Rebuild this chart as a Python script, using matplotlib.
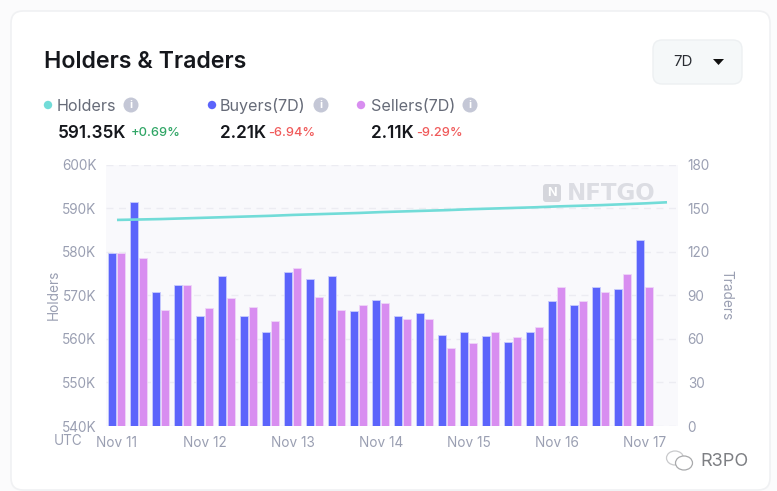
import matplotlib
matplotlib.use("Agg")
import matplotlib.pyplot as plt
from matplotlib.patches import FancyBboxPatch, Circle, Polygon, Ellipse

plt.rcParams['font.family'] = ['Inter', 'DejaVu Sans']

# ---- data ----
days = ["Nov 11", "Nov 12", "Nov 13", "Nov 14", "Nov 15", "Nov 16", "Nov 17"]
day_slots = [0, 4, 8, 12, 16, 20, 24]
buyers = [119, 154, 92, 97, 76, 103, 76, 65, 106, 101, 103, 79, 87,
          76, 78, 63, 65, 62, 58, 65, 86, 83, 96, 94, 128]
sellers = [119, 116, 80, 97, 81, 88, 82, 72, 109, 89, 80, 83, 85,
           74, 74, 54, 57, 65, 61, 68, 96, 86, 92, 105, 96]
holders = [587.3, 587.4, 587.5, 587.65, 587.8, 587.95, 588.1, 588.25, 588.45, 588.6, 588.75,
           588.9, 589.1, 589.25, 589.4, 589.55, 589.75, 589.9, 590.05, 590.2, 590.4, 590.55,
           590.7, 590.9, 591.1, 591.35]
left_ticks = [540, 550, 560, 570, 580, 590, 600]
right_ticks = [0, 30, 60, 90, 120, 150, 180]

W, H = 777, 491
BLUE, PINK, TEAL = "#5B64FB", "#D88EF0", "#72DCD8"
GREY = "#9A9FB2"
INK = "#15171C"

fig = plt.figure(figsize=(W / 100, H / 100), dpi=100, facecolor="#FBFBFC")

# page overlay in pixel coordinates
bg = fig.add_axes([0, 0, 1, 1], zorder=0)
bg.set_xlim(0, W); bg.set_ylim(H, 0); bg.axis("off")
bg.add_patch(FancyBboxPatch((17, 17), 747, 467, boxstyle="round,pad=6,rounding_size=12",
                            fc="white", ec="#F0F1F3", lw=1.2))
bg.add_patch(FancyBboxPatch((653, 40), 89, 44, boxstyle="round,pad=0,rounding_size=9",
                            fc="#F5F8F9", ec="#EDF0F2", lw=1))
bg.text(44, 62, "Holders & Traders", fontsize=16.7, fontweight="semibold", color=INK, va="center")
bg.text(683, 61.5, "7D", fontsize=10.8, color="#2A2D33", ha="center", va="center")
bg.add_patch(Polygon([[713, 59], [724, 59], [718.5, 65]], fc="#111111", ec="none"))


def stat(xdot, xtext, label, xinfo, value, vx, delta, dx, dot, dcol):
    bg.add_patch(Circle((xdot, 105), 4.2, fc=dot, ec="none"))
    bg.text(xtext, 106, label, fontsize=11.6, color="#666B78", va="center")
    bg.add_patch(Circle((xinfo, 105), 7.5, fc="#C4C7D6", ec="none"))
    bg.text(xinfo, 105, "i", fontsize=8, color="white", ha="center", va="center", fontweight="bold")
    bg.text(vx, 133, value, fontsize=12.4, fontweight="semibold", color=INK, va="center")
    bg.text(dx, 133.5, delta, fontsize=9.2, fontweight="medium", color=dcol, va="center")


stat(48, 57, "Holders", 131, "591.35K", 58, "+0.69%", 131, TEAL, "#2FA565")
stat(212, 220, "Buyers(7D)", 321, "2.21K", 220, "-6.94%", 268, BLUE, "#F05A5A")
stat(361, 371, "Sellers(7D)", 470, "2.11K", 371, "-9.29%", 416, PINK, "#F05A5A")

# chart
x0, x1, ytop, ybot = 106, 678, 164.6, 426
ax = fig.add_axes([x0 / W, 1 - ybot / H, (x1 - x0) / W, (ybot - ytop) / H], zorder=2)
ax.set_facecolor("#F9F9FC")
ax.set_xlim(-0.5, 25.5)
ax.set_ylim(right_ticks[0], right_ticks[-1])
for s in ax.spines.values():
    s.set_visible(False)
ax.set_yticks(right_ticks)
ax.grid(axis="y", color="#ECECF2", lw=1, ls=(0, (5, 4)))
ax.set_axisbelow(True)
ax.set_xticks(day_slots)
ax.set_xticklabels(days)
ax.tick_params(axis="x", length=0, labelsize=9.8, labelcolor=GREY, pad=7)

slots = list(range(len(buyers)))
ax.bar([i - 0.235 for i in slots], buyers, width=0.35, color=BLUE, edgecolor="#C9CCFD", lw=0.6, zorder=3)
ax.bar([i + 0.175 for i in slots], sellers, width=0.35, color=PINK, edgecolor="#EFD6F8", lw=0.6, zorder=3)

left = ax.twinx()
left.set_ylim(left_ticks[0], left_ticks[-1])
left.set_yticks(left_ticks)
left.set_yticklabels([f"{t}K" for t in left_ticks])
left.yaxis.tick_left()
left.yaxis.set_label_position("left")
left.tick_params(axis="y", length=0, labelsize=9.8, labelcolor=GREY, pad=7)
left.set_ylabel("Holders", fontsize=9.8, color=GREY, labelpad=1)
for s in left.spines.values():
    s.set_visible(False)
left.plot(range(len(holders)), holders, color=TEAL, lw=1.9, zorder=5, solid_capstyle="butt")

ax.yaxis.tick_right()
ax.yaxis.set_label_position("right")
ax.tick_params(axis="y", length=0, labelsize=9.8, labelcolor=GREY, pad=7)
ax.set_ylabel("Traders", fontsize=9.8, color=GREY, rotation=-90, labelpad=7, va="bottom")

# watermark
bg2 = fig.add_axes([0, 0, 1, 1], zorder=3)
bg2.patch.set_alpha(0)
bg2.set_xlim(0, W); bg2.set_ylim(H, 0); bg2.axis("off")
bg2.add_patch(FancyBboxPatch((543, 184), 18, 18, boxstyle="round,pad=0,rounding_size=3", fc="#D5D6DC", ec="none"))
bg2.text(552, 193.5, "N", fontsize=9, fontweight="bold", color="white", ha="center", va="center")
bg2.text(567, 193.5, "NFTGO", fontsize=16.5, fontweight="bold", color="#DCDDE3", va="center",
         family="DejaVu Sans")
bg2.text(54, 441, "UTC", fontsize=9.8, color=GREY, va="center")

# corner mark
bg2.add_patch(Ellipse((675, 458), 17, 14, fc="none", ec="#C9CACC", lw=0.9))
bg2.add_patch(Ellipse((684, 463), 17, 14, fc="white", ec="#A9AAAC", lw=0.9))
bg2.text(700, 461, "R3PO", fontsize=13, color="#7D7F83", va="center")

fig.savefig("out.png", dpi=100, facecolor=fig.get_facecolor())
